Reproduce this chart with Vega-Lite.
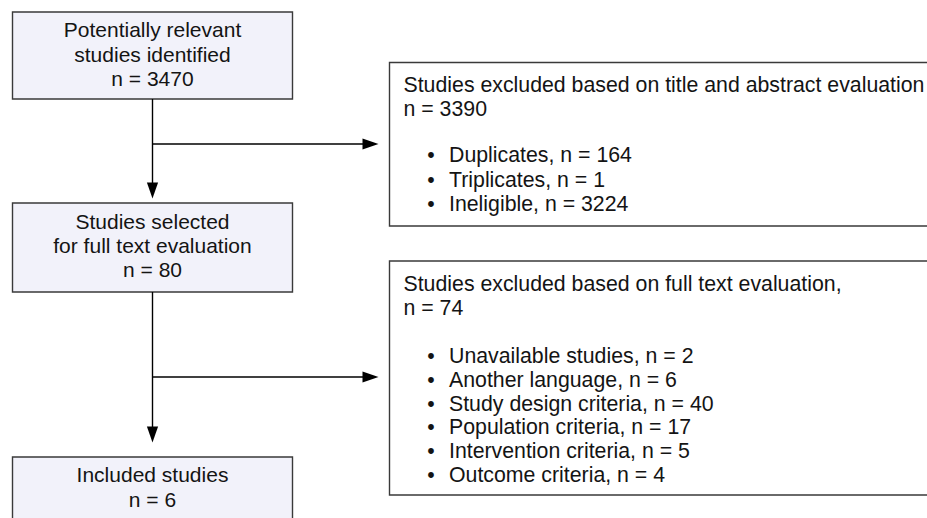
{
  "$schema": "https://vega.github.io/schema/vega-lite/v6.json",
  "width": 927,
  "height": 518,
  "autosize": {"type": "none"},
  "padding": 0,
  "background": "white",
  "config": {"view": {"stroke": null}},
  "datasets": {
    "boxes": [
      {"id": "identified", "kind": "main", "x": 12.5, "x2": 292.5, "y": 12, "y2": 99},
      {"id": "selected", "kind": "main", "x": 12.5, "x2": 292.5, "y": 203, "y2": 292},
      {"id": "included", "kind": "main", "x": 12.5, "x2": 292.5, "y": 457, "y2": 545},
      {"id": "excl1", "kind": "excl", "x": 389.5, "x2": 945, "y": 62.5, "y2": 226},
      {"id": "excl2", "kind": "excl", "x": 389.5, "x2": 945, "y": 261, "y2": 495}
    ],
    "links": [
      {"x": 152.5, "x2": 152.5, "y": 99, "y2": 190},
      {"x": 152.5, "x2": 370, "y": 144, "y2": 144},
      {"x": 152.5, "x2": 152.5, "y": 292, "y2": 434},
      {"x": 152.5, "x2": 370, "y": 377, "y2": 377}
    ],
    "heads": [
      {"dir": "down", "x": 152.5, "y": 190.5},
      {"dir": "right", "x": 370.5, "y": 144},
      {"dir": "down", "x": 152.5, "y": 434.5},
      {"dir": "right", "x": 370.5, "y": 377}
    ],
    "centerText": [
      {"x": 152.5, "y": 37.3, "text": "Potentially relevant"},
      {"x": 152.5, "y": 61.8, "text": "studies identified"},
      {"x": 152.5, "y": 86, "text": "n = 3470"},
      {"x": 152.5, "y": 229.3, "text": "Studies selected"},
      {"x": 152.5, "y": 253.3, "text": "for full text evaluation"},
      {"x": 152.5, "y": 277, "text": "n = 80"},
      {"x": 152.5, "y": 482.3, "text": "Included studies"},
      {"x": 152.5, "y": 506.5, "text": "n = 6"}
    ],
    "headText": [
      {"x": 403.5, "y": 91.7, "text": "Studies excluded based on title and abstract evaluation"},
      {"x": 403.5, "y": 116, "text": "n = 3390"},
      {"x": 403.5, "y": 290.7, "text": "Studies excluded based on full text evaluation,"},
      {"x": 403.5, "y": 315, "text": "n = 74"}
    ],
    "items": [
      {"x": 449, "y": 162.3, "text": "Duplicates, n = 164"},
      {"x": 449, "y": 186.7, "text": "Triplicates, n = 1"},
      {"x": 449, "y": 210.7, "text": "Ineligible, n = 3224"},
      {"x": 449, "y": 362.7, "text": "Unavailable studies, n = 2"},
      {"x": 449, "y": 386.7, "text": "Another language, n = 6"},
      {"x": 449, "y": 410.7, "text": "Study design criteria, n = 40"},
      {"x": 449, "y": 434.3, "text": "Population criteria, n = 17"},
      {"x": 449, "y": 458.3, "text": "Intervention criteria, n = 5"},
      {"x": 449, "y": 482.3, "text": "Outcome criteria, n = 4"}
    ]
  },
  "layer": [
    {
      "data": {"name": "boxes"},
      "mark": {"type": "rect", "stroke": "#3a3a3a", "strokeWidth": 1.4, "clip": true},
      "encoding": {
        "x": {"field": "x", "type": "quantitative", "scale": {"domain": [0, 927], "nice": false, "zero": false}, "axis": null},
        "x2": {"field": "x2"},
        "y": {"field": "y", "type": "quantitative", "scale": {"domain": [0, 518], "nice": false, "zero": false, "reverse": true}, "axis": null},
        "y2": {"field": "y2"},
        "fill": {"field": "kind", "type": "nominal", "scale": {"domain": ["main", "excl"], "range": ["#f2f2fa", "#ffffff"]}, "legend": null}
      }
    },
    {
      "data": {"name": "links"},
      "mark": {"type": "rule", "color": "#000000", "strokeWidth": 1.4},
      "encoding": {
        "x": {"field": "x", "type": "quantitative"},
        "x2": {"field": "x2"},
        "y": {"field": "y", "type": "quantitative"},
        "y2": {"field": "y2"}
      }
    },
    {
      "data": {"name": "heads"},
      "mark": {"type": "point", "filled": true, "fill": "#000000", "strokeWidth": 0, "opacity": 1, "size": 256},
      "encoding": {
        "x": {"field": "x", "type": "quantitative"},
        "y": {"field": "y", "type": "quantitative"},
        "shape": {"field": "dir", "type": "nominal", "scale": {"domain": ["down", "right"], "range": ["M-0.7,-1L0.7,-1L0,1Z", "M-1,-0.7L1,0L-1,0.7Z"]}, "legend": null}
      }
    },
    {
      "data": {"name": "centerText"},
      "mark": {"type": "text", "align": "center", "baseline": "alphabetic", "font": "Liberation Sans", "fontSize": 21, "color": "#141414"},
      "encoding": {
        "x": {"field": "x", "type": "quantitative"},
        "y": {"field": "y", "type": "quantitative"},
        "text": {"field": "text"}
      }
    },
    {
      "data": {"name": "headText"},
      "mark": {"type": "text", "align": "left", "baseline": "alphabetic", "font": "Liberation Sans", "fontSize": 21.3, "color": "#141414"},
      "encoding": {
        "x": {"field": "x", "type": "quantitative"},
        "y": {"field": "y", "type": "quantitative"},
        "text": {"field": "text"}
      }
    },
    {
      "data": {"name": "items"},
      "mark": {"type": "text", "align": "left", "baseline": "alphabetic", "font": "Liberation Sans", "fontSize": 21.3, "color": "#141414"},
      "encoding": {
        "x": {"field": "x", "type": "quantitative"},
        "y": {"field": "y", "type": "quantitative"},
        "text": {"field": "text"}
      }
    },
    {
      "data": {"name": "items"},
      "mark": {"type": "text", "align": "center", "baseline": "alphabetic", "font": "Liberation Sans", "fontSize": 21.3, "color": "#141414", "dx": -18, "text": "•"},
      "encoding": {
        "x": {"field": "x", "type": "quantitative"},
        "y": {"field": "y", "type": "quantitative"}
      }
    }
  ]
}
